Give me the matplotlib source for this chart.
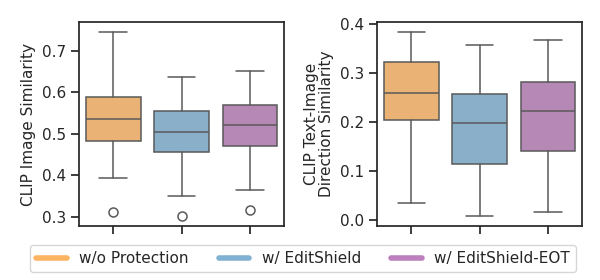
import matplotlib
matplotlib.use("Agg")
import matplotlib.pyplot as plt
import seaborn as sns
from matplotlib.lines import Line2D

sns.set_theme(style="ticks")
plt.rcParams['font.family'] = ['DejaVu Sans']

methods = ["w/o Protection", "w/ EditShield", "w/ EditShield-EOT"]
colors = ["#fdb462", "#80b1d3", "#bc80bd"]

# CLIP image similarity: whislo, q1, med, q3, whishi, outliers
img_whislo = [0.393, 0.350, 0.364]
img_q1 = [0.482, 0.456, 0.471]
img_med = [0.535, 0.504, 0.521]
img_q3 = [0.588, 0.555, 0.569]
img_whishi = [0.747, 0.637, 0.653]
img_fliers = [[0.311], [0.302], [0.316]]

# CLIP text-image direction similarity
dir_whislo = [0.034, 0.007, 0.016]
dir_q1 = [0.203, 0.113, 0.140]
dir_med = [0.258, 0.197, 0.222]
dir_q3 = [0.322, 0.257, 0.281]
dir_whishi = [0.384, 0.356, 0.367]
dir_fliers = [[], [], []]


def make_stats(lo, q1, med, q3, hi, fl):
    return [dict(whislo=lo[i], q1=q1[i], med=med[i], q3=q3[i], whishi=hi[i],
                 fliers=fl[i]) for i in range(len(lo))]


fig = plt.figure(figsize=(6, 2.8), dpi=100)
ax1 = fig.add_axes([79/600, 1-226/280, 205/600, 204/280])
ax2 = fig.add_axes([377/600, 1-226/280, 205/600, 204/280])

lc = "0.35"
panels = [
    (ax1, make_stats(img_whislo, img_q1, img_med, img_q3, img_whishi, img_fliers),
     "CLIP Image Similarity", (0.278, 0.770), [0.3, 0.4, 0.5, 0.6, 0.7]),
    (ax2, make_stats(dir_whislo, dir_q1, dir_med, dir_q3, dir_whishi, dir_fliers),
     "CLIP Text-Image\nDirection Similarity", (-0.013, 0.404), [0.0, 0.1, 0.2, 0.3, 0.4]),
]

for ax, stats, ylabel, ylim, yt in panels:
    bp = ax.bxp(stats, positions=range(len(stats)), widths=0.8, patch_artist=True,
                boxprops=dict(edgecolor=lc, linewidth=1.1),
                whiskerprops=dict(color=lc, linewidth=1.1),
                capprops=dict(color=lc, linewidth=1.1),
                medianprops=dict(color=lc, linewidth=1.1),
                flierprops=dict(marker="o", markerfacecolor="none",
                                markeredgecolor=lc, markersize=6.5, markeredgewidth=1.1),
                capwidths=0.4)
    for patch, c in zip(bp["boxes"], colors):
        patch.set_facecolor(sns.desaturate(c, 0.75))
    ax.set_xlim(-0.5, 2.5)
    ax.set_ylim(*ylim)
    ax.set_yticks(yt)
    ax.set_xticks(range(len(stats)))
    ax.set_xticklabels([])
    ax.set_ylabel(ylabel, fontsize=11, linespacing=1.0)
    ax.tick_params(labelsize=11)
    for s in ax.spines.values():
        s.set_linewidth(1.25)
        s.set_color(".15")

handles = [Line2D([0], [0], color=c, lw=4) for c in colors]
fig.legend(handles, methods, loc="center", bbox_to_anchor=(0.505, 0.077), ncol=3,
           fontsize=11, frameon=True)

fig.savefig("out.png", dpi=100)
